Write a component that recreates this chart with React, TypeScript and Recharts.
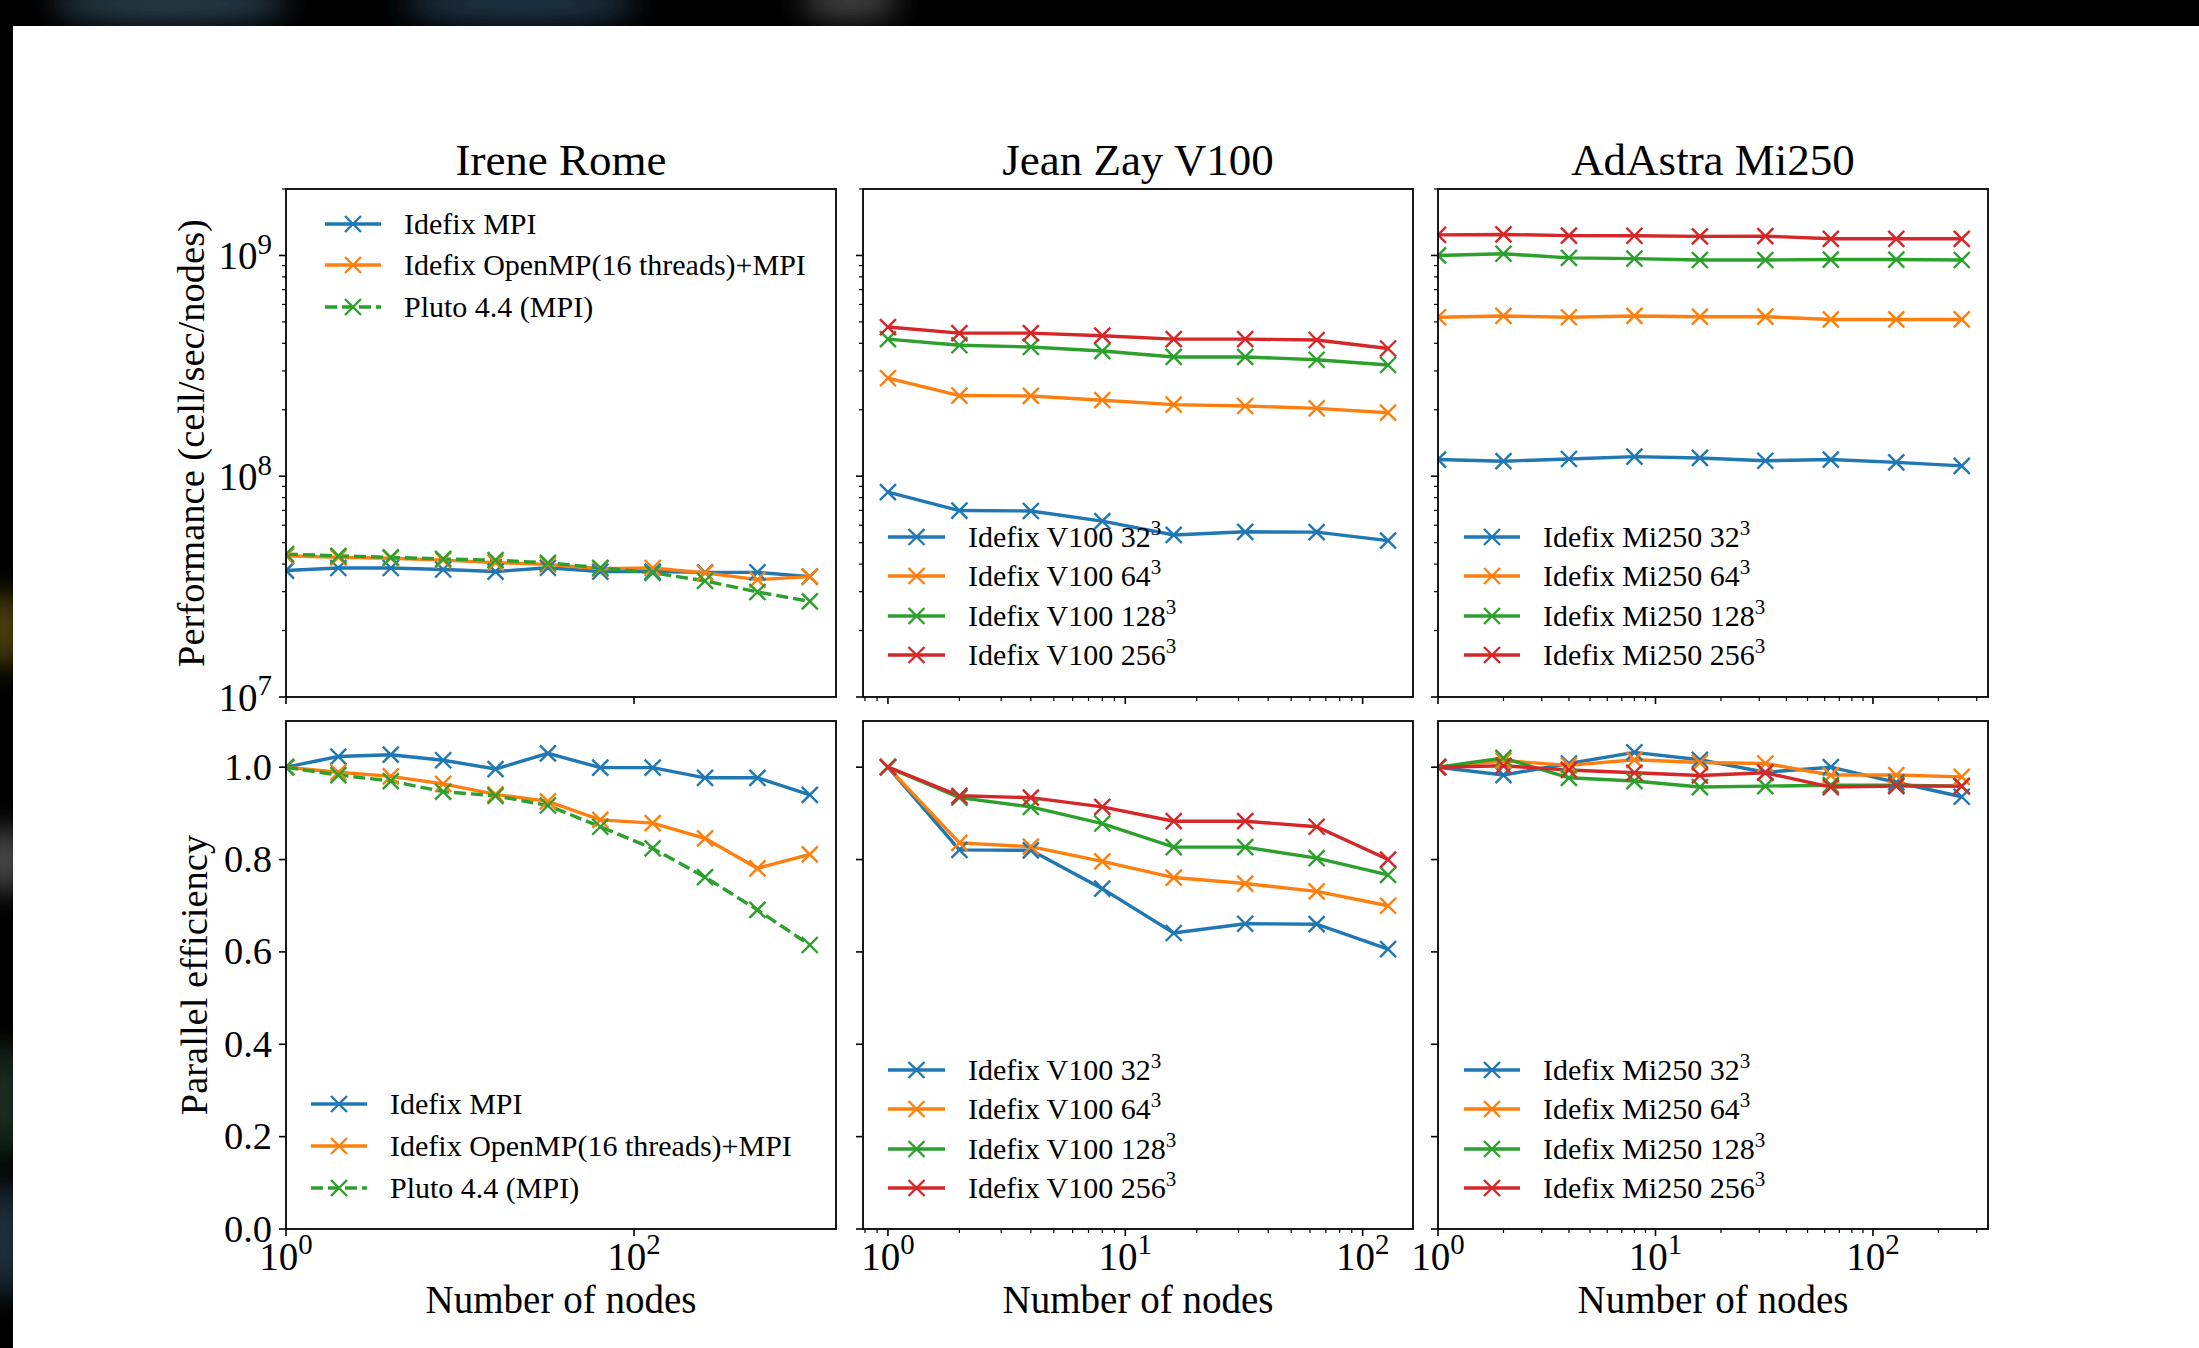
import React from "react";
import { LineChart, Line, XAxis, YAxis } from "recharts";

const BLUE = "#1f77b4";
const ORANGE = "#ff7f0e";
const GREEN = "#2ca02c";
const RED = "#d62728";
const FONT = "'Liberation Serif', 'DejaVu Serif', serif";

// ---- data ----
const ROME_NODES = [1, 2, 4, 8, 16, 32, 64, 128, 256, 512, 1024];
const ROME_PERF_MPI = [3.74e7, 3.84e7, 3.84e7, 3.78e7, 3.7e7, 3.85e7, 3.7e7, 3.7e7, 3.67e7, 3.67e7, 3.51e7];
const ROME_PERF_OMP = [4.36e7, 4.29e7, 4.25e7, 4.17e7, 4.06e7, 3.99e7, 3.81e7, 3.84e7, 3.65e7, 3.4e7, 3.51e7];
const ROME_PERF_PLUTO = [4.44e7, 4.36e7, 4.29e7, 4.22e7, 4.17e7, 4.05e7, 3.85e7, 3.65e7, 3.36e7, 2.99e7, 2.71e7];
const ROME_EFF_MPI = [1.0, 1.023, 1.027, 1.015, 0.996, 1.03, 0.999, 0.999, 0.977, 0.977, 0.94];
const ROME_EFF_OMP = [1.0, 0.989, 0.98, 0.964, 0.941, 0.926, 0.886, 0.879, 0.846, 0.781, 0.811];
const ROME_EFF_PLUTO = [1.0, 0.983, 0.97, 0.947, 0.938, 0.917, 0.871, 0.824, 0.762, 0.691, 0.615];

const JZ_NODES = [1, 2, 4, 8, 16, 32, 64, 128];
const JZ_PERF_32 = [8.47e7, 6.99e7, 6.96e7, 6.26e7, 5.42e7, 5.6e7, 5.58e7, 5.11e7];
const JZ_PERF_64 = [2.78e8, 2.32e8, 2.31e8, 2.21e8, 2.11e8, 2.08e8, 2.03e8, 1.94e8];
const JZ_PERF_128 = [4.18e8, 3.92e8, 3.85e8, 3.69e8, 3.47e8, 3.47e8, 3.37e8, 3.19e8];
const JZ_PERF_256 = [4.74e8, 4.45e8, 4.45e8, 4.33e8, 4.18e8, 4.18e8, 4.14e8, 3.79e8];
const JZ_EFF_32 = [1.0, 0.821, 0.82, 0.737, 0.641, 0.661, 0.66, 0.606];
const JZ_EFF_64 = [1.0, 0.836, 0.828, 0.796, 0.761, 0.748, 0.731, 0.7];
const JZ_EFF_128 = [1.0, 0.934, 0.914, 0.878, 0.827, 0.827, 0.803, 0.767];
const JZ_EFF_256 = [1.0, 0.938, 0.934, 0.914, 0.883, 0.883, 0.871, 0.8];

const AA_NODES = [1, 2, 4, 8, 16, 32, 64, 128, 256];
const AA_PERF_32 = [1.19e8, 1.17e8, 1.197e8, 1.227e8, 1.21e8, 1.175e8, 1.19e8, 1.155e8, 1.114e8];
const AA_PERF_64 = [5.25e8, 5.32e8, 5.25e8, 5.32e8, 5.28e8, 5.28e8, 5.13e8, 5.13e8, 5.13e8];
const AA_PERF_128 = [1.0e9, 1.018e9, 9.75e8, 9.68e8, 9.54e8, 9.54e8, 9.58e8, 9.58e8, 9.54e8];
const AA_PERF_256 = [1.24e9, 1.245e9, 1.23e9, 1.228e9, 1.22e9, 1.223e9, 1.19e9, 1.19e9, 1.19e9];
const AA_EFF_32 = [1.0, 0.983, 1.008, 1.032, 1.016, 0.989, 1.0, 0.967, 0.936];
const AA_EFF_64 = [1.0, 1.014, 1.004, 1.016, 1.01, 1.008, 0.983, 0.983, 0.979];
const AA_EFF_128 = [1.0, 1.02, 0.977, 0.97, 0.957, 0.959, 0.961, 0.961, 0.959];
const AA_EFF_256 = [1.0, 1.003, 0.994, 0.988, 0.982, 0.988, 0.957, 0.959, 0.959];

const TITLES = ["Irene Rome", "Jean Zay V100", "AdAstra Mi250"];
const ROME_LABELS = ["Idefix MPI", "Idefix OpenMP(16 threads)+MPI", "Pluto 4.4 (MPI)"];
const JZ_LABELS = ["Idefix V100 32", "Idefix V100 64", "Idefix V100 128", "Idefix V100 256"];
const AA_LABELS = ["Idefix Mi250 32", "Idefix Mi250 64", "Idefix Mi250 128", "Idefix Mi250 256"];

// axis ticks / limits
const ROME_X_DOMAIN: [number, number] = [1, 1448];
const JZ_X_DOMAIN: [number, number] = [0.785, 163];
const AA_X_DOMAIN: [number, number] = [1, 338];
const ROME_X_TICKS = [1, 100];
const JZ_X_TICKS = [0.8, 0.9, 1, 2, 3, 4, 5, 6, 7, 8, 9, 10, 20, 30, 40, 50, 60, 70, 80, 90, 100];
const AA_X_TICKS = [1, 2, 3, 4, 5, 6, 7, 8, 9, 10, 20, 30, 40, 50, 60, 70, 80, 90, 100, 200, 300];
const PERF_Y_DOMAIN: [number, number] = [1e7, 2e9];
const PERF_Y_TICKS = [
  1e7, 2e7, 3e7, 4e7, 5e7, 6e7, 7e7, 8e7, 9e7,
  1e8, 2e8, 3e8, 4e8, 5e8, 6e8, 7e8, 8e8, 9e8,
  1e9, 2e9,
];
const EFF_Y_DOMAIN: [number, number] = [0, 1.1];
const EFF_Y_TICKS = [0, 0.2, 0.4, 0.6, 0.8, 1.0];

// ---- layout ----
const PAGE_W = 2199;
const PAGE_H = 1348;
const PANEL_W = 550;
const PANEL_H = 508;
const COL_X = [286, 863, 1438];
const ROW_Y = [189, 721];
const PAD = { top: 20, right: 20, bottom: 70, left: 140 };
const Y_AXIS_W = 60;
const X_AXIS_H = 30;
const CLIP_ID = "panel-clip";
const LINE_W = 3.4;

type Series = { values: number[]; color: string; dashed?: boolean };
type PanelDef = {
  col: number;
  row: number;
  nodes: number[];
  series: Series[];
  xDomain: [number, number];
  xTicks: number[];
};

const isDecade = (v: number) => Math.abs(Math.log10(v) - Math.round(Math.log10(v))) < 1e-9;

function XMark({ cx, cy, color, clip }: { cx: number; cy: number; color: string; clip?: boolean }) {
  const s = 8;
  return (
    <path
      d={`M${cx - s},${cy - s}L${cx + s},${cy + s}M${cx - s},${cy + s}L${cx + s},${cy - s}`}
      stroke={color}
      strokeWidth={2.4}
      fill="none"
      clipPath={clip ? `url(#${CLIP_ID})` : undefined}
    />
  );
}

function PowerLabel({ x, y, exp, anchor, size }: { x: number; y: number; exp: number; anchor: string; size: number }) {
  return (
    <text x={x} y={y} textAnchor={anchor as any} fontFamily={FONT} fontSize={size} fill="#000">
      10
      <tspan dy={-size * 0.4} fontSize={size * 0.74}>
        {exp}
      </tspan>
    </text>
  );
}

function Panel({ def }: { def: PanelDef }) {
  const { col, row, nodes, series, xDomain, xTicks } = def;
  const perf = row === 0;
  const data = nodes.map((n, i) => {
    const r: Record<string, number> = { n };
    series.forEach((s, k) => {
      r["s" + k] = s.values[i];
    });
    return r;
  });
  const W = PANEL_W + PAD.left + PAD.right;
  const H = PANEL_H + PAD.top + PAD.bottom;
  const plotLeft = PAD.left;
  const plotBottom = PAD.top + PANEL_H;
  const margin = { top: PAD.top, right: PAD.right, left: PAD.left - Y_AXIS_W, bottom: PAD.bottom - X_AXIS_H };

  const xTick = (p: any) => {
    const v = p.payload.value;
    const major = isDecade(v);
    return (
      <g>
        <line x1={p.x} x2={p.x} y1={plotBottom} y2={plotBottom + (major ? 7 : 4)} stroke="#000" strokeWidth={major ? 1.6 : 1.2} />
        {major && !perf && <PowerLabel x={p.x} y={plotBottom + 41} exp={Math.round(Math.log10(v))} anchor="middle" size={39} />}
      </g>
    );
  };

  const yTick = (p: any) => {
    const v = p.payload.value;
    const major = perf ? isDecade(v) : true;
    return (
      <g>
        <line x1={plotLeft - (major ? 7 : 4)} x2={plotLeft} y1={p.y} y2={p.y} stroke="#000" strokeWidth={major ? 1.6 : 1.2} />
        {major && col === 0 && perf && (
          <PowerLabel x={plotLeft - 14} y={p.y + 14} exp={Math.round(Math.log10(v))} anchor="end" size={39} />
        )}
        {col === 0 && !perf && (
          <text x={plotLeft - 14} y={p.y + 12.5} textAnchor="end" fontFamily={FONT} fontSize={38.5} fill="#000">
            {v.toFixed(1)}
          </text>
        )}
      </g>
    );
  };

  return (
    <div style={{ position: "absolute", left: COL_X[col] - PAD.left, top: ROW_Y[row] - PAD.top }}>
      <LineChart width={W} height={H} data={data} margin={margin}>
        <XAxis
          dataKey="n"
          type="number"
          scale="log"
          domain={xDomain}
          allowDataOverflow
          ticks={xTicks}
          interval={0}
          height={X_AXIS_H}
          tickLine={false}
          axisLine={false}
          tick={xTick}
        />
        <YAxis
          type="number"
          scale={perf ? "log" : "linear"}
          domain={perf ? PERF_Y_DOMAIN : EFF_Y_DOMAIN}
          allowDataOverflow
          ticks={perf ? PERF_Y_TICKS : EFF_Y_TICKS}
          interval={0}
          width={Y_AXIS_W}
          tickLine={false}
          axisLine={false}
          tick={yTick}
        />
        {series.map((s, k) => (
          <Line
            key={k}
            type="linear"
            dataKey={"s" + k}
            stroke={s.color}
            strokeWidth={LINE_W}
            strokeDasharray={s.dashed ? "12 5" : undefined}
            isAnimationActive={false}
            dot={(p: any) => (
              <g key={`dot-${k}-${p.index}`}>
                {p.cx != null && p.cy != null && <XMark cx={p.cx} cy={p.cy} color={s.color} clip />}
              </g>
            )}
            activeDot={false}
          />
        ))}
      </LineChart>
    </div>
  );
}

type LegendItem = { text: string; sup?: string; color: string; dashed?: boolean };

function LegendBlock({ x1, x2, textX, ys, items }: { x1: number; x2: number; textX: number; ys: number[]; items: LegendItem[] }) {
  return (
    <g>
      {items.map((it, i) => (
        <g key={i}>
          <line x1={x1} x2={x2} y1={ys[i]} y2={ys[i]} stroke={it.color} strokeWidth={LINE_W} strokeDasharray={it.dashed ? "12 5" : undefined} />
          <XMark cx={(x1 + x2) / 2} cy={ys[i]} color={it.color} />
          <text x={textX} y={ys[i] + 10} fontFamily={FONT} fontSize={30} fill="#000">
            {it.text}
            {it.sup && (
              <tspan dy={-12} fontSize={21}>
                {it.sup}
              </tspan>
            )}
          </text>
        </g>
      ))}
    </g>
  );
}

const romeSeries = (a: number[], b: number[], c: number[]): Series[] => [
  { values: a, color: BLUE },
  { values: b, color: ORANGE },
  { values: c, color: GREEN, dashed: true },
];
const gpuSeries = (a: number[], b: number[], c: number[], d: number[]): Series[] => [
  { values: a, color: BLUE },
  { values: b, color: ORANGE },
  { values: c, color: GREEN },
  { values: d, color: RED },
];

const PANELS: PanelDef[] = [
  { col: 0, row: 0, nodes: ROME_NODES, series: romeSeries(ROME_PERF_MPI, ROME_PERF_OMP, ROME_PERF_PLUTO), xDomain: ROME_X_DOMAIN, xTicks: ROME_X_TICKS },
  { col: 1, row: 0, nodes: JZ_NODES, series: gpuSeries(JZ_PERF_32, JZ_PERF_64, JZ_PERF_128, JZ_PERF_256), xDomain: JZ_X_DOMAIN, xTicks: JZ_X_TICKS },
  { col: 2, row: 0, nodes: AA_NODES, series: gpuSeries(AA_PERF_32, AA_PERF_64, AA_PERF_128, AA_PERF_256), xDomain: AA_X_DOMAIN, xTicks: AA_X_TICKS },
  { col: 0, row: 1, nodes: ROME_NODES, series: romeSeries(ROME_EFF_MPI, ROME_EFF_OMP, ROME_EFF_PLUTO), xDomain: ROME_X_DOMAIN, xTicks: ROME_X_TICKS },
  { col: 1, row: 1, nodes: JZ_NODES, series: gpuSeries(JZ_EFF_32, JZ_EFF_64, JZ_EFF_128, JZ_EFF_256), xDomain: JZ_X_DOMAIN, xTicks: JZ_X_TICKS },
  { col: 2, row: 1, nodes: AA_NODES, series: gpuSeries(AA_EFF_32, AA_EFF_64, AA_EFF_128, AA_EFF_256), xDomain: AA_X_DOMAIN, xTicks: AA_X_TICKS },
];

const ROME_ITEMS: LegendItem[] = ROME_LABELS.map((t, i) => ({ text: t, color: [BLUE, ORANGE, GREEN][i], dashed: i === 2 }));
const JZ_ITEMS: LegendItem[] = JZ_LABELS.map((t, i) => ({ text: t, sup: "3", color: [BLUE, ORANGE, GREEN, RED][i] }));
const AA_ITEMS: LegendItem[] = AA_LABELS.map((t, i) => ({ text: t, sup: "3", color: [BLUE, ORANGE, GREEN, RED][i] }));

export default function App() {
  const cx = (c: number) => COL_X[c] + PANEL_W / 2;
  return (
    <div style={{ position: "absolute", left: 0, top: 0, width: PAGE_W, height: PAGE_H, background: "#fff", overflow: "hidden" }}>
      <svg width={0} height={0} style={{ position: "absolute" }}>
        <defs>
          <clipPath id={CLIP_ID} clipPathUnits="userSpaceOnUse">
            <rect x={PAD.left} y={PAD.top} width={PANEL_W} height={PANEL_H} />
          </clipPath>
        </defs>
      </svg>

      {PANELS.map((p, i) => (
        <Panel key={i} def={p} />
      ))}

      <svg width={PAGE_W} height={PAGE_H} style={{ position: "absolute", left: 0, top: 0, pointerEvents: "none" }}>
        <defs>
          <filter id="blurry" x="-50%" y="-50%" width="200%" height="200%">
            <feGaussianBlur stdDeviation="14" />
          </filter>
          <clipPath id="band-clip">
            <rect x={0} y={0} width={PAGE_W} height={26} />
            <rect x={0} y={0} width={13} height={PAGE_H} />
          </clipPath>
        </defs>

        {/* dark screenshot border */}
        <rect x={0} y={0} width={PAGE_W} height={26} fill="#000" />
        <rect x={0} y={0} width={13} height={PAGE_H} fill="#000" />
        <g clipPath="url(#band-clip)" filter="url(#blurry)">
          <ellipse cx={170} cy={4} rx={120} ry={18} fill="#2c4250" />
          <ellipse cx={520} cy={4} rx={120} ry={18} fill="#24394a" />
          <ellipse cx={850} cy={2} rx={50} ry={16} fill="#4a4a4a" />
          <ellipse cx={4} cy={630} rx={14} ry={40} fill="#6a5a10" />
          <ellipse cx={4} cy={860} rx={14} ry={35} fill="#666" />
          <ellipse cx={4} cy={1100} rx={14} ry={60} fill="#23402c" />
          <ellipse cx={4} cy={1240} rx={14} ry={60} fill="#2a4456" />
        </g>

        {/* frames */}
        {PANELS.map((p, i) => (
          <rect key={i} x={COL_X[p.col]} y={ROW_Y[p.row]} width={PANEL_W} height={PANEL_H} fill="none" stroke="#000" strokeWidth={1.8} />
        ))}

        {/* titles */}
        {TITLES.map((t, c) => (
          <text key={t} x={cx(c)} y={175} textAnchor="middle" fontFamily={FONT} fontSize={45} fill="#000">
            {t}
          </text>
        ))}

        {/* axis labels */}
        {[0, 1, 2].map((c) => (
          <text key={c} x={cx(c)} y={1313} textAnchor="middle" fontFamily={FONT} fontSize={39} fill="#000">
            Number of nodes
          </text>
        ))}
        <text
          x={204}
          y={ROW_Y[0] + PANEL_H / 2}
          transform={`rotate(-90 204 ${ROW_Y[0] + PANEL_H / 2})`}
          textAnchor="middle"
          fontFamily={FONT}
          fontSize={38.5}
          fill="#000"
        >
          Performance (cell/sec/nodes)
        </text>
        <text
          x={207}
          y={ROW_Y[1] + PANEL_H / 2}
          transform={`rotate(-90 207 ${ROW_Y[1] + PANEL_H / 2})`}
          textAnchor="middle"
          fontFamily={FONT}
          fontSize={38.5}
          fill="#000"
        >
          Parallel efficiency
        </text>

        {/* legends */}
        <LegendBlock x1={325} x2={381} textX={404} ys={[224, 265, 307]} items={ROME_ITEMS} />
        <LegendBlock x1={311} x2={367} textX={390} ys={[1104, 1146, 1188]} items={ROME_ITEMS} />
        <LegendBlock x1={888} x2={945} textX={968} ys={[537, 576, 616, 655]} items={JZ_ITEMS} />
        <LegendBlock x1={888} x2={945} textX={968} ys={[1070, 1109, 1149, 1188]} items={JZ_ITEMS} />
        <LegendBlock x1={1464} x2={1520} textX={1543} ys={[537, 576, 616, 655]} items={AA_ITEMS} />
        <LegendBlock x1={1464} x2={1520} textX={1543} ys={[1070, 1109, 1149, 1188]} items={AA_ITEMS} />
      </svg>
    </div>
  );
}
